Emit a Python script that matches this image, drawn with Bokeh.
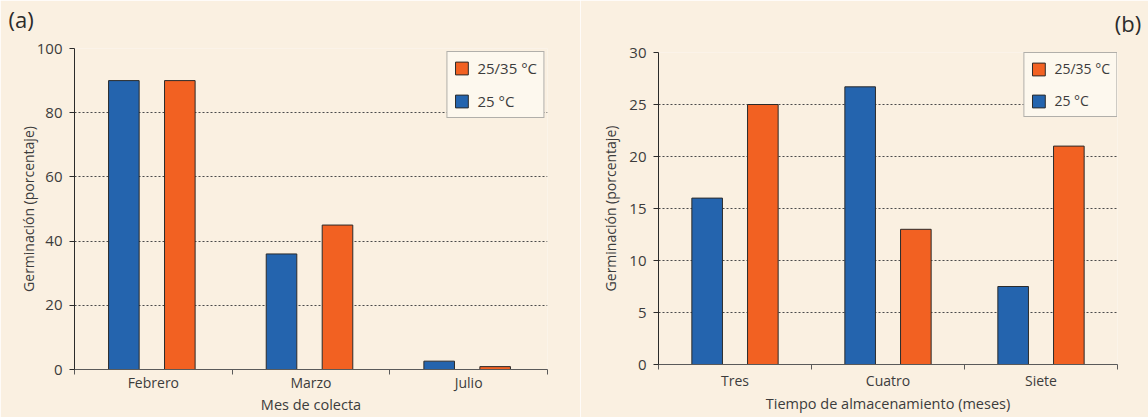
from bokeh.plotting import figure
from bokeh.layouts import row
from bokeh.models import Range1d, FixedTicker, Legend, LegendItem, ColumnDataSource, Label
from bokeh.embed import file_html
from bokeh.resources import INLINE
from bokeh.transform import dodge

# ---- data ----
months = ["Febrero", "Marzo", "Julio"]
a_25 = [90, 36, 2.6]
a_2535 = [90, 45, 0.9]

times = ["Tres", "Cuatro", "Siete"]
b_25 = [16, 26.7, 7.5]
b_2535 = [25, 13, 21]

labels = ["25/35 °C", "25 °C"]

BG = "#FAF0E1"
BLUE = "#2464AE"
ORANGE = "#F26122"
FONT = "Open Sans"
TXT = "#3c3c3c"


def make(cats, v25, v2535, ymax, ystep, xlabel, tag, width, height, bl, br, bt, bb,
         off25, off2535, barw, tag_x, tag_y, tag_align, ylab_standoff, xtick_standoff,
         xlab_standoff, leg_font, leg_margin, leg_pad):
    n = len(cats)
    p = figure(width=width, height=height, x_range=Range1d(0, n), y_range=Range1d(0, ymax),
               output_backend="svg", toolbar_location=None,
               min_border_left=bl, min_border_right=br, min_border_top=bt, min_border_bottom=bb,
               background_fill_color=BG, border_fill_color=BG, outline_line_color=None,
               frame_align=False)
    centers = [i + 0.5 for i in range(n)]
    src = ColumnDataSource(dict(x=centers, v25=v25, v2535=v2535))
    r1 = p.vbar(x=dodge("x", off25), top="v25", width=barw, source=src,
                fill_color=BLUE, line_color="#2b2b2b", line_width=1)
    r2 = p.vbar(x=dodge("x", off2535), top="v2535", width=barw, source=src,
                fill_color=ORANGE, line_color="#2b2b2b", line_width=1)

    # x axis
    xa = p.xaxis[0]
    xa.ticker = FixedTicker(ticks=centers, minor_ticks=list(range(n + 1)))
    xa.major_label_overrides = {c: name for c, name in zip(centers, cats)}
    xa.major_tick_in = 0
    xa.major_tick_out = 0
    xa.minor_tick_in = 0
    xa.minor_tick_out = 5
    xa.axis_line_color = "#5a5a5a"
    xa.minor_tick_line_color = "#5a5a5a"
    xa.major_label_standoff = xtick_standoff
    xa.major_label_text_font = FONT
    xa.major_label_text_font_size = "14px"
    xa.major_label_text_color = TXT
    xa.axis_label = xlabel
    xa.axis_label_text_font = FONT
    xa.axis_label_text_font_size = "14.5px"
    xa.axis_label_text_font_style = "normal"
    xa.axis_label_text_color = TXT
    xa.axis_label_standoff = xlab_standoff

    # y axis
    ya = p.yaxis[0]
    ya.ticker = FixedTicker(ticks=list(range(0, ymax + 1, ystep)))
    ya.major_tick_in = 0
    ya.major_tick_out = 5
    ya.minor_tick_in = 0
    ya.minor_tick_out = 0
    ya.axis_line_color = "#2b2b2b"
    ya.major_tick_line_color = "#2b2b2b"
    ya.major_label_standoff = 7
    ya.major_label_text_font = FONT
    ya.major_label_text_font_size = "15px"
    ya.major_label_text_color = TXT
    ya.axis_label = "Germinación (porcentaje)"
    ya.axis_label_text_font = FONT
    ya.axis_label_text_font_size = "14px"
    ya.axis_label_text_font_style = "normal"
    ya.axis_label_text_color = TXT
    ya.axis_label_standoff = ylab_standoff

    p.xgrid.visible = False
    p.ygrid.grid_line_color = "#4a4a4a"
    p.ygrid.grid_line_dash = "2 2"
    p.ygrid.grid_line_width = 1

    legend = Legend(items=[LegendItem(label=labels[0], renderers=[r2]),
                           LegendItem(label=labels[1], renderers=[r1])],
                    location="top_right", margin=leg_margin, padding=leg_pad, spacing=13,
                    glyph_width=16, glyph_height=16, label_height=16, label_standoff=8,
                    label_text_font=FONT, label_text_font_size=leg_font, label_text_color=TXT,
                    border_line_color="#666666", border_line_width=1,
                    background_fill_color="#FDF8EE", background_fill_alpha=1)
    p.add_layout(legend)

    p.add_layout(Label(x=tag_x, y=tag_y, x_units="screen", y_units="screen", text=tag,
                       text_font=FONT, text_font_size="22px", text_color="#2b2b2b",
                       text_align=tag_align, text_baseline="alphabetic"), "above")
    return p


pa = make(months, a_25, a_2535, 100, 20, "Mes de colecta", "(a)", 580, 417, 74, 33, 48, 48,
          -0.187, 0.168, 0.194, -66, 29.6, "left", -4, -2, 0, "15px", 3, 6)
pb = make(times, b_25, b_2535, 30, 5, "Tiempo de almacenamiento (meses)", "(b)", 568, 417, 78, 31, 52, 53,
          -0.182, 0.182, 0.2, 482.7, 29.7, "right", 6, 1, 1, "14px", 0, 6)

layout = row(pa, pb)
open("out.html", "w").write(file_html(layout, INLINE))
